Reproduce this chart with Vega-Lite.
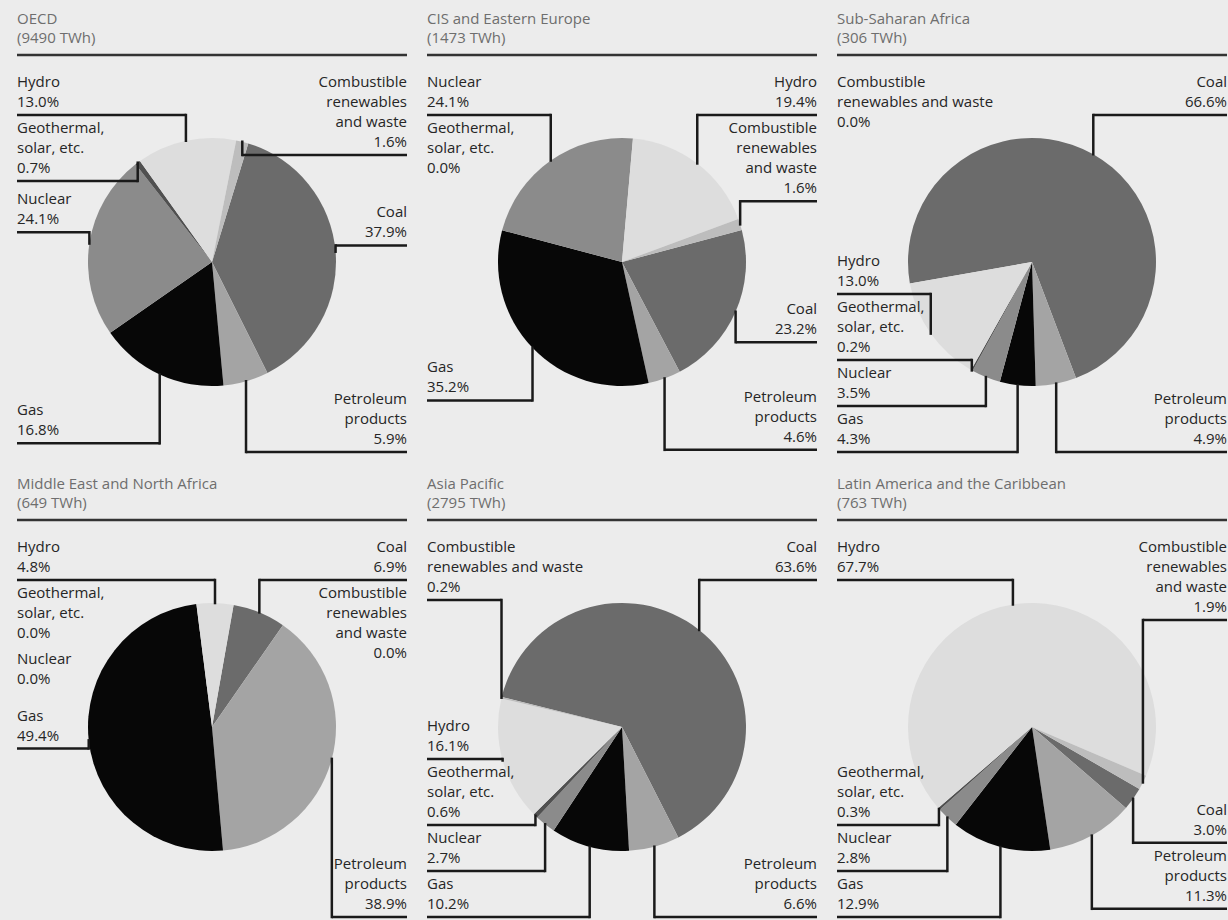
{
"$schema": "https://vega.github.io/schema/vega-lite/v6.json",
"padding": {"left": 15, "top": 0, "right": 3, "bottom": 0},
"config": {"background": "#ececec", "view": {"stroke": null}, "axis": {"disable": true}, "legend": {"disable": true}, "font": "Open Sans"},
"datasets": {
"regions": [
{"region": "OECD", "title": "OECD|(9490 TWh)"},
{"region": "CIS", "title": "CIS and Eastern Europe|(1473 TWh)"},
{"region": "SSA", "title": "Sub-Saharan Africa|(306 TWh)"},
{"region": "ME", "title": "Middle East and North Africa|(649 TWh)"},
{"region": "AP", "title": "Asia Pacific|(2795 TWh)"},
{"region": "LA", "title": "Latin America and the Caribbean|(763 TWh)"}
],
"shares": [
{"region": "OECD", "source": "Coal", "label": "Coal", "v": 37.9, "k": 0},
{"region": "OECD", "source": "Petroleum", "label": "Petroleum|products", "v": 5.9, "k": 1},
{"region": "OECD", "source": "Gas", "label": "Gas", "v": 16.8, "k": 2},
{"region": "OECD", "source": "Nuclear", "label": "Nuclear", "v": 24.1, "k": 3},
{"region": "OECD", "source": "Geothermal", "label": "Geothermal,|solar, etc.", "v": 0.7, "k": 4},
{"region": "OECD", "source": "Hydro", "label": "Hydro", "v": 13.0, "k": 5},
{"region": "OECD", "source": "Combustible", "label": "Combustible|renewables|and waste", "v": 1.6, "k": 6},
{"region": "CIS", "source": "Coal", "label": "Coal", "v": 23.2, "k": 0},
{"region": "CIS", "source": "Petroleum", "label": "Petroleum|products", "v": 4.6, "k": 1},
{"region": "CIS", "source": "Gas", "label": "Gas", "v": 35.2, "k": 2},
{"region": "CIS", "source": "Nuclear", "label": "Nuclear", "v": 24.1, "k": 3},
{"region": "CIS", "source": "Geothermal", "label": "Geothermal,|solar, etc.", "v": 0.0, "k": 4},
{"region": "CIS", "source": "Hydro", "label": "Hydro", "v": 19.4, "k": 5},
{"region": "CIS", "source": "Combustible", "label": "Combustible|renewables|and waste", "v": 1.6, "k": 6},
{"region": "SSA", "source": "Coal", "label": "Coal", "v": 66.6, "k": 0},
{"region": "SSA", "source": "Petroleum", "label": "Petroleum|products", "v": 4.9, "k": 1},
{"region": "SSA", "source": "Gas", "label": "Gas", "v": 4.3, "k": 2},
{"region": "SSA", "source": "Nuclear", "label": "Nuclear", "v": 3.5, "k": 3},
{"region": "SSA", "source": "Geothermal", "label": "Geothermal,|solar, etc.", "v": 0.2, "k": 4},
{"region": "SSA", "source": "Hydro", "label": "Hydro", "v": 13.0, "k": 5},
{"region": "SSA", "source": "Combustible", "label": "Combustible|renewables and waste", "v": 0.0, "k": 6},
{"region": "ME", "source": "Coal", "label": "Coal", "v": 6.9, "k": 0},
{"region": "ME", "source": "Petroleum", "label": "Petroleum|products", "v": 38.9, "k": 1},
{"region": "ME", "source": "Gas", "label": "Gas", "v": 49.4, "k": 2},
{"region": "ME", "source": "Nuclear", "label": "Nuclear", "v": 0.0, "k": 3},
{"region": "ME", "source": "Geothermal", "label": "Geothermal,|solar, etc.", "v": 0.0, "k": 4},
{"region": "ME", "source": "Hydro", "label": "Hydro", "v": 4.8, "k": 5},
{"region": "ME", "source": "Combustible", "label": "Combustible|renewables|and waste", "v": 0.0, "k": 6},
{"region": "AP", "source": "Coal", "label": "Coal", "v": 63.6, "k": 0},
{"region": "AP", "source": "Petroleum", "label": "Petroleum|products", "v": 6.6, "k": 1},
{"region": "AP", "source": "Gas", "label": "Gas", "v": 10.2, "k": 2},
{"region": "AP", "source": "Nuclear", "label": "Nuclear", "v": 2.7, "k": 3},
{"region": "AP", "source": "Geothermal", "label": "Geothermal,|solar, etc.", "v": 0.6, "k": 4},
{"region": "AP", "source": "Hydro", "label": "Hydro", "v": 16.1, "k": 5},
{"region": "AP", "source": "Combustible", "label": "Combustible|renewables and waste", "v": 0.2, "k": 6},
{"region": "LA", "source": "Coal", "label": "Coal", "v": 3.0, "k": 0},
{"region": "LA", "source": "Petroleum", "label": "Petroleum|products", "v": 11.3, "k": 1},
{"region": "LA", "source": "Gas", "label": "Gas", "v": 12.9, "k": 2},
{"region": "LA", "source": "Nuclear", "label": "Nuclear", "v": 2.8, "k": 3},
{"region": "LA", "source": "Geothermal", "label": "Geothermal,|solar, etc.", "v": 0.3, "k": 4},
{"region": "LA", "source": "Hydro", "label": "Hydro", "v": 67.7, "k": 5},
{"region": "LA", "source": "Combustible", "label": "Combustible|renewables|and waste", "v": 1.9, "k": 6}
]
},
"spacing": 10,
"vconcat": [
{"spacing": 20, "bounds": "flush", "hconcat": [
{"width": 390, "height": 455, "layer": [
{"data": {"name": "regions"}, "transform": [{"filter": "datum.region === 'OECD'"}], "mark": {"type": "rule", "color": "#333333", "strokeWidth": 2.5}, "encoding": {"y": {"datum": 207, "type": "quantitative", "scale": {"domain": [-193, 262], "nice": false, "zero": false}}}},
{"data": {"name": "regions"}, "transform": [{"filter": "datum.region === 'OECD'"}], "mark": {"type": "text", "align": "left", "baseline": "top", "lineBreak": "|", "fontSize": 15, "lineHeight": 19, "color": "#6e6e6e"}, "encoding": {"x": {"datum": -195, "type": "quantitative", "scale": {"domain": [-195, 195], "nice": false, "zero": false}}, "y": {"datum": 250, "type": "quantitative", "scale": {"domain": [-193, 262], "nice": false, "zero": false}}, "text": {"field": "title"}}},
{"data": {"name": "shares"}, "transform": [
{"filter": "datum.region === 'OECD'"},
{"stack": "v", "groupby": ["region"], "offset": "normalize", "sort": [{"field": "k", "order": "ascending"}], "as": ["f0", "f1"]},
{"calculate": "0.297 + 2*PI*datum.f0", "as": "a0"},
{"calculate": "0.297 + 2*PI*datum.f1", "as": "a1"},
{"calculate": "(datum.a0 + datum.a1) / 2", "as": "am"},
{"calculate": "cos(datum.am)", "as": "c"},
{"calculate": "sin(datum.am) > 0.1 ? 1 : -1", "as": "side"},
{"calculate": "124 * sin(datum.am)", "as": "px"},
{"calculate": "124 * cos(datum.am)", "as": "py"},
{"calculate": "length(split(datum.label, '|')) + 1", "as": "n"},
{"calculate": "datum.label + '|' + format(datum.v, '.1f') + '%'", "as": "txt"},
{"calculate": "clamp(200 * datum.c, -190, 187 - 20 * datum.n)", "as": "y0"},
{"calculate": "datum.n >= 3 && datum.y0 < 55 && datum.y0 + 20 * datum.n > -55", "as": "inband"},
{"calculate": "datum.c > 0 ? 1 : 0", "as": "isup"},
{"joinaggregate": [{"op": "sum", "field": "isup", "as": "nup"}, {"op": "count", "as": "cnt"}], "groupby": ["side"]},
{"calculate": "datum.nup - datum.isup", "as": "upo"},
{"calculate": "datum.cnt - 1 - datum.upo", "as": "dno"},
{"calculate": "datum.inband ? ((datum.upo < datum.dno || (datum.upo == datum.dno && datum.c > 0)) ? 1 : -1) : 0", "as": "zone"},
{"calculate": "datum.zone == 1 ? 187 - 20 * datum.n : (datum.zone == -1 ? -190 : datum.y0)", "as": "yd"},
{"calculate": "datum.zone == 1 ? 2 + datum.c : (datum.zone == -1 ? datum.c - 2 : (datum.v == 0 ? datum.c - 1 : datum.c))", "as": "s"},
{"calculate": "datum.side * datum.k", "as": "tk"},
{"calculate": "20 * datum.n + 6", "as": "g"},
{"window": [{"op": "row_number", "as": "idx"}, {"op": "sum", "field": "g", "as": "cg"}], "groupby": ["side"], "sort": [{"field": "s", "order": "descending"}, {"field": "tk", "order": "ascending"}], "frame": [null, 0]},
{"calculate": "datum.yd + datum.cg", "as": "z"},
{"window": [{"op": "min", "field": "z", "as": "u"}], "groupby": ["side"], "sort": [{"field": "idx", "order": "ascending"}], "frame": [null, 0]},
{"calculate": "datum.u - datum.cg", "as": "y1"},
{"window": [{"op": "sum", "field": "g", "as": "cb"}], "groupby": ["side"], "sort": [{"field": "idx", "order": "descending"}], "frame": [null, 0]},
{"calculate": "datum.cb - datum.g", "as": "e"},
{"calculate": "datum.y1 - datum.e", "as": "q"},
{"window": [{"op": "max", "field": "q", "as": "qm"}], "groupby": ["side"], "sort": [{"field": "idx", "order": "descending"}], "frame": [null, 0]},
{"calculate": "datum.e + max(-190, datum.qm)", "as": "ly"},
{"calculate": "datum.ly + 20 * datum.n", "as": "ty"},
{"calculate": "195 * datum.side", "as": "lx"}
], "layer": [
{"mark": {"type": "arc", "outerRadius": 124}, "encoding": {"x": {"datum": 0, "type": "quantitative", "scale": {"domain": [-195, 195], "nice": false, "zero": false}}, "y": {"datum": 0, "type": "quantitative", "scale": {"domain": [-193, 262], "nice": false, "zero": false}}, "theta": {"field": "a0", "type": "quantitative", "scale": null}, "theta2": {"field": "a1"}, "color": {"field": "source", "type": "nominal", "scale": {"domain": ["Coal", "Petroleum", "Gas", "Nuclear", "Geothermal", "Hydro", "Combustible"], "range": ["#6b6b6b", "#a4a4a4", "#070707", "#8b8b8b", "#505050", "#dddddd", "#bdbdbd"]}}}},
{"transform": [{"filter": "datum.v > 0"}], "mark": {"type": "rule", "color": "#1a1a1a", "strokeWidth": 2.5}, "encoding": {"x": {"field": "lx", "type": "quantitative", "scale": {"domain": [-195, 195], "nice": false, "zero": false}}, "x2": {"field": "px"}, "y": {"field": "ly", "type": "quantitative", "scale": {"domain": [-193, 262], "nice": false, "zero": false}}}},
{"transform": [{"filter": "datum.v > 0"}], "mark": {"type": "rule", "color": "#1a1a1a", "strokeWidth": 2.5, "strokeCap": "square"}, "encoding": {"x": {"field": "px", "type": "quantitative", "scale": {"domain": [-195, 195], "nice": false, "zero": false}}, "y": {"field": "ly", "type": "quantitative", "scale": {"domain": [-193, 262], "nice": false, "zero": false}}, "y2": {"field": "py"}}},
{"transform": [{"filter": "datum.side < 0"}], "mark": {"type": "text", "align": "left", "baseline": "top", "lineBreak": "|", "fontSize": 15, "lineHeight": 20, "color": "#262626"}, "encoding": {"x": {"field": "lx", "type": "quantitative", "scale": {"domain": [-195, 195], "nice": false, "zero": false}}, "y": {"field": "ty", "type": "quantitative", "scale": {"domain": [-193, 262], "nice": false, "zero": false}}, "text": {"field": "txt"}}},
{"transform": [{"filter": "datum.side > 0"}], "mark": {"type": "text", "align": "right", "baseline": "top", "lineBreak": "|", "fontSize": 15, "lineHeight": 20, "color": "#262626"}, "encoding": {"x": {"field": "lx", "type": "quantitative", "scale": {"domain": [-195, 195], "nice": false, "zero": false}}, "y": {"field": "ty", "type": "quantitative", "scale": {"domain": [-193, 262], "nice": false, "zero": false}}, "text": {"field": "txt"}}}
]}
]},
{"width": 390, "height": 455, "layer": [
{"data": {"name": "regions"}, "transform": [{"filter": "datum.region === 'CIS'"}], "mark": {"type": "rule", "color": "#333333", "strokeWidth": 2.5}, "encoding": {"y": {"datum": 207, "type": "quantitative", "scale": {"domain": [-193, 262], "nice": false, "zero": false}}}},
{"data": {"name": "regions"}, "transform": [{"filter": "datum.region === 'CIS'"}], "mark": {"type": "text", "align": "left", "baseline": "top", "lineBreak": "|", "fontSize": 15, "lineHeight": 19, "color": "#6e6e6e"}, "encoding": {"x": {"datum": -195, "type": "quantitative", "scale": {"domain": [-195, 195], "nice": false, "zero": false}}, "y": {"datum": 250, "type": "quantitative", "scale": {"domain": [-193, 262], "nice": false, "zero": false}}, "text": {"field": "title"}}},
{"data": {"name": "shares"}, "transform": [
{"filter": "datum.region === 'CIS'"},
{"stack": "v", "groupby": ["region"], "offset": "normalize", "sort": [{"field": "k", "order": "ascending"}], "as": ["f0", "f1"]},
{"calculate": "1.309 + 2*PI*datum.f0", "as": "a0"},
{"calculate": "1.309 + 2*PI*datum.f1", "as": "a1"},
{"calculate": "(datum.a0 + datum.a1) / 2", "as": "am"},
{"calculate": "cos(datum.am)", "as": "c"},
{"calculate": "sin(datum.am) > 0.1 ? 1 : -1", "as": "side"},
{"calculate": "124 * sin(datum.am)", "as": "px"},
{"calculate": "124 * cos(datum.am)", "as": "py"},
{"calculate": "length(split(datum.label, '|')) + 1", "as": "n"},
{"calculate": "datum.label + '|' + format(datum.v, '.1f') + '%'", "as": "txt"},
{"calculate": "clamp(200 * datum.c, -190, 187 - 20 * datum.n)", "as": "y0"},
{"calculate": "datum.n >= 3 && datum.y0 < 55 && datum.y0 + 20 * datum.n > -55", "as": "inband"},
{"calculate": "datum.c > 0 ? 1 : 0", "as": "isup"},
{"joinaggregate": [{"op": "sum", "field": "isup", "as": "nup"}, {"op": "count", "as": "cnt"}], "groupby": ["side"]},
{"calculate": "datum.nup - datum.isup", "as": "upo"},
{"calculate": "datum.cnt - 1 - datum.upo", "as": "dno"},
{"calculate": "datum.inband ? ((datum.upo < datum.dno || (datum.upo == datum.dno && datum.c > 0)) ? 1 : -1) : 0", "as": "zone"},
{"calculate": "datum.zone == 1 ? 187 - 20 * datum.n : (datum.zone == -1 ? -190 : datum.y0)", "as": "yd"},
{"calculate": "datum.zone == 1 ? 2 + datum.c : (datum.zone == -1 ? datum.c - 2 : (datum.v == 0 ? datum.c - 1 : datum.c))", "as": "s"},
{"calculate": "datum.side * datum.k", "as": "tk"},
{"calculate": "20 * datum.n + 6", "as": "g"},
{"window": [{"op": "row_number", "as": "idx"}, {"op": "sum", "field": "g", "as": "cg"}], "groupby": ["side"], "sort": [{"field": "s", "order": "descending"}, {"field": "tk", "order": "ascending"}], "frame": [null, 0]},
{"calculate": "datum.yd + datum.cg", "as": "z"},
{"window": [{"op": "min", "field": "z", "as": "u"}], "groupby": ["side"], "sort": [{"field": "idx", "order": "ascending"}], "frame": [null, 0]},
{"calculate": "datum.u - datum.cg", "as": "y1"},
{"window": [{"op": "sum", "field": "g", "as": "cb"}], "groupby": ["side"], "sort": [{"field": "idx", "order": "descending"}], "frame": [null, 0]},
{"calculate": "datum.cb - datum.g", "as": "e"},
{"calculate": "datum.y1 - datum.e", "as": "q"},
{"window": [{"op": "max", "field": "q", "as": "qm"}], "groupby": ["side"], "sort": [{"field": "idx", "order": "descending"}], "frame": [null, 0]},
{"calculate": "datum.e + max(-190, datum.qm)", "as": "ly"},
{"calculate": "datum.ly + 20 * datum.n", "as": "ty"},
{"calculate": "195 * datum.side", "as": "lx"}
], "layer": [
{"mark": {"type": "arc", "outerRadius": 124}, "encoding": {"x": {"datum": 0, "type": "quantitative", "scale": {"domain": [-195, 195], "nice": false, "zero": false}}, "y": {"datum": 0, "type": "quantitative", "scale": {"domain": [-193, 262], "nice": false, "zero": false}}, "theta": {"field": "a0", "type": "quantitative", "scale": null}, "theta2": {"field": "a1"}, "color": {"field": "source", "type": "nominal", "scale": {"domain": ["Coal", "Petroleum", "Gas", "Nuclear", "Geothermal", "Hydro", "Combustible"], "range": ["#6b6b6b", "#a4a4a4", "#070707", "#8b8b8b", "#505050", "#dddddd", "#bdbdbd"]}}}},
{"transform": [{"filter": "datum.v > 0"}], "mark": {"type": "rule", "color": "#1a1a1a", "strokeWidth": 2.5}, "encoding": {"x": {"field": "lx", "type": "quantitative", "scale": {"domain": [-195, 195], "nice": false, "zero": false}}, "x2": {"field": "px"}, "y": {"field": "ly", "type": "quantitative", "scale": {"domain": [-193, 262], "nice": false, "zero": false}}}},
{"transform": [{"filter": "datum.v > 0"}], "mark": {"type": "rule", "color": "#1a1a1a", "strokeWidth": 2.5, "strokeCap": "square"}, "encoding": {"x": {"field": "px", "type": "quantitative", "scale": {"domain": [-195, 195], "nice": false, "zero": false}}, "y": {"field": "ly", "type": "quantitative", "scale": {"domain": [-193, 262], "nice": false, "zero": false}}, "y2": {"field": "py"}}},
{"transform": [{"filter": "datum.side < 0"}], "mark": {"type": "text", "align": "left", "baseline": "top", "lineBreak": "|", "fontSize": 15, "lineHeight": 20, "color": "#262626"}, "encoding": {"x": {"field": "lx", "type": "quantitative", "scale": {"domain": [-195, 195], "nice": false, "zero": false}}, "y": {"field": "ty", "type": "quantitative", "scale": {"domain": [-193, 262], "nice": false, "zero": false}}, "text": {"field": "txt"}}},
{"transform": [{"filter": "datum.side > 0"}], "mark": {"type": "text", "align": "right", "baseline": "top", "lineBreak": "|", "fontSize": 15, "lineHeight": 20, "color": "#262626"}, "encoding": {"x": {"field": "lx", "type": "quantitative", "scale": {"domain": [-195, 195], "nice": false, "zero": false}}, "y": {"field": "ty", "type": "quantitative", "scale": {"domain": [-193, 262], "nice": false, "zero": false}}, "text": {"field": "txt"}}}
]}
]},
{"width": 390, "height": 455, "layer": [
{"data": {"name": "regions"}, "transform": [{"filter": "datum.region === 'SSA'"}], "mark": {"type": "rule", "color": "#333333", "strokeWidth": 2.5}, "encoding": {"y": {"datum": 207, "type": "quantitative", "scale": {"domain": [-193, 262], "nice": false, "zero": false}}}},
{"data": {"name": "regions"}, "transform": [{"filter": "datum.region === 'SSA'"}], "mark": {"type": "text", "align": "left", "baseline": "top", "lineBreak": "|", "fontSize": 15, "lineHeight": 19, "color": "#6e6e6e"}, "encoding": {"x": {"datum": -195, "type": "quantitative", "scale": {"domain": [-195, 195], "nice": false, "zero": false}}, "y": {"datum": 250, "type": "quantitative", "scale": {"domain": [-193, 262], "nice": false, "zero": false}}, "text": {"field": "title"}}},
{"data": {"name": "shares"}, "transform": [
{"filter": "datum.region === 'SSA'"},
{"stack": "v", "groupby": ["region"], "offset": "normalize", "sort": [{"field": "k", "order": "ascending"}], "as": ["f0", "f1"]},
{"calculate": "-1.745 + 2*PI*datum.f0", "as": "a0"},
{"calculate": "-1.745 + 2*PI*datum.f1", "as": "a1"},
{"calculate": "(datum.a0 + datum.a1) / 2", "as": "am"},
{"calculate": "cos(datum.am)", "as": "c"},
{"calculate": "sin(datum.am) > 0.1 ? 1 : -1", "as": "side"},
{"calculate": "124 * sin(datum.am)", "as": "px"},
{"calculate": "124 * cos(datum.am)", "as": "py"},
{"calculate": "length(split(datum.label, '|')) + 1", "as": "n"},
{"calculate": "datum.label + '|' + format(datum.v, '.1f') + '%'", "as": "txt"},
{"calculate": "clamp(200 * datum.c, -190, 187 - 20 * datum.n)", "as": "y0"},
{"calculate": "datum.n >= 3 && datum.y0 < 55 && datum.y0 + 20 * datum.n > -55", "as": "inband"},
{"calculate": "datum.c > 0 ? 1 : 0", "as": "isup"},
{"joinaggregate": [{"op": "sum", "field": "isup", "as": "nup"}, {"op": "count", "as": "cnt"}], "groupby": ["side"]},
{"calculate": "datum.nup - datum.isup", "as": "upo"},
{"calculate": "datum.cnt - 1 - datum.upo", "as": "dno"},
{"calculate": "datum.inband ? ((datum.upo < datum.dno || (datum.upo == datum.dno && datum.c > 0)) ? 1 : -1) : 0", "as": "zone"},
{"calculate": "datum.zone == 1 ? 187 - 20 * datum.n : (datum.zone == -1 ? -190 : datum.y0)", "as": "yd"},
{"calculate": "datum.zone == 1 ? 2 + datum.c : (datum.zone == -1 ? datum.c - 2 : (datum.v == 0 ? datum.c - 1 : datum.c))", "as": "s"},
{"calculate": "datum.side * datum.k", "as": "tk"},
{"calculate": "20 * datum.n + 6", "as": "g"},
{"window": [{"op": "row_number", "as": "idx"}, {"op": "sum", "field": "g", "as": "cg"}], "groupby": ["side"], "sort": [{"field": "s", "order": "descending"}, {"field": "tk", "order": "ascending"}], "frame": [null, 0]},
{"calculate": "datum.yd + datum.cg", "as": "z"},
{"window": [{"op": "min", "field": "z", "as": "u"}], "groupby": ["side"], "sort": [{"field": "idx", "order": "ascending"}], "frame": [null, 0]},
{"calculate": "datum.u - datum.cg", "as": "y1"},
{"window": [{"op": "sum", "field": "g", "as": "cb"}], "groupby": ["side"], "sort": [{"field": "idx", "order": "descending"}], "frame": [null, 0]},
{"calculate": "datum.cb - datum.g", "as": "e"},
{"calculate": "datum.y1 - datum.e", "as": "q"},
{"window": [{"op": "max", "field": "q", "as": "qm"}], "groupby": ["side"], "sort": [{"field": "idx", "order": "descending"}], "frame": [null, 0]},
{"calculate": "datum.e + max(-190, datum.qm)", "as": "ly"},
{"calculate": "datum.ly + 20 * datum.n", "as": "ty"},
{"calculate": "195 * datum.side", "as": "lx"}
], "layer": [
{"mark": {"type": "arc", "outerRadius": 124}, "encoding": {"x": {"datum": 0, "type": "quantitative", "scale": {"domain": [-195, 195], "nice": false, "zero": false}}, "y": {"datum": 0, "type": "quantitative", "scale": {"domain": [-193, 262], "nice": false, "zero": false}}, "theta": {"field": "a0", "type": "quantitative", "scale": null}, "theta2": {"field": "a1"}, "color": {"field": "source", "type": "nominal", "scale": {"domain": ["Coal", "Petroleum", "Gas", "Nuclear", "Geothermal", "Hydro", "Combustible"], "range": ["#6b6b6b", "#a4a4a4", "#070707", "#8b8b8b", "#505050", "#dddddd", "#bdbdbd"]}}}},
{"transform": [{"filter": "datum.v > 0"}], "mark": {"type": "rule", "color": "#1a1a1a", "strokeWidth": 2.5}, "encoding": {"x": {"field": "lx", "type": "quantitative", "scale": {"domain": [-195, 195], "nice": false, "zero": false}}, "x2": {"field": "px"}, "y": {"field": "ly", "type": "quantitative", "scale": {"domain": [-193, 262], "nice": false, "zero": false}}}},
{"transform": [{"filter": "datum.v > 0"}], "mark": {"type": "rule", "color": "#1a1a1a", "strokeWidth": 2.5, "strokeCap": "square"}, "encoding": {"x": {"field": "px", "type": "quantitative", "scale": {"domain": [-195, 195], "nice": false, "zero": false}}, "y": {"field": "ly", "type": "quantitative", "scale": {"domain": [-193, 262], "nice": false, "zero": false}}, "y2": {"field": "py"}}},
{"transform": [{"filter": "datum.side < 0"}], "mark": {"type": "text", "align": "left", "baseline": "top", "lineBreak": "|", "fontSize": 15, "lineHeight": 20, "color": "#262626"}, "encoding": {"x": {"field": "lx", "type": "quantitative", "scale": {"domain": [-195, 195], "nice": false, "zero": false}}, "y": {"field": "ty", "type": "quantitative", "scale": {"domain": [-193, 262], "nice": false, "zero": false}}, "text": {"field": "txt"}}},
{"transform": [{"filter": "datum.side > 0"}], "mark": {"type": "text", "align": "right", "baseline": "top", "lineBreak": "|", "fontSize": 15, "lineHeight": 20, "color": "#262626"}, "encoding": {"x": {"field": "lx", "type": "quantitative", "scale": {"domain": [-195, 195], "nice": false, "zero": false}}, "y": {"field": "ty", "type": "quantitative", "scale": {"domain": [-193, 262], "nice": false, "zero": false}}, "text": {"field": "txt"}}}
]}
]}
]},
{"spacing": 20, "bounds": "flush", "hconcat": [
{"width": 390, "height": 455, "layer": [
{"data": {"name": "regions"}, "transform": [{"filter": "datum.region === 'ME'"}], "mark": {"type": "rule", "color": "#333333", "strokeWidth": 2.5}, "encoding": {"y": {"datum": 207, "type": "quantitative", "scale": {"domain": [-193, 262], "nice": false, "zero": false}}}},
{"data": {"name": "regions"}, "transform": [{"filter": "datum.region === 'ME'"}], "mark": {"type": "text", "align": "left", "baseline": "top", "lineBreak": "|", "fontSize": 15, "lineHeight": 19, "color": "#6e6e6e"}, "encoding": {"x": {"datum": -195, "type": "quantitative", "scale": {"domain": [-195, 195], "nice": false, "zero": false}}, "y": {"datum": 250, "type": "quantitative", "scale": {"domain": [-193, 262], "nice": false, "zero": false}}, "text": {"field": "title"}}},
{"data": {"name": "shares"}, "transform": [
{"filter": "datum.region === 'ME'"},
{"stack": "v", "groupby": ["region"], "offset": "normalize", "sort": [{"field": "k", "order": "ascending"}], "as": ["f0", "f1"]},
{"calculate": "0.175 + 2*PI*datum.f0", "as": "a0"},
{"calculate": "0.175 + 2*PI*datum.f1", "as": "a1"},
{"calculate": "(datum.a0 + datum.a1) / 2", "as": "am"},
{"calculate": "cos(datum.am)", "as": "c"},
{"calculate": "sin(datum.am) > 0.1 ? 1 : -1", "as": "side"},
{"calculate": "124 * sin(datum.am)", "as": "px"},
{"calculate": "124 * cos(datum.am)", "as": "py"},
{"calculate": "length(split(datum.label, '|')) + 1", "as": "n"},
{"calculate": "datum.label + '|' + format(datum.v, '.1f') + '%'", "as": "txt"},
{"calculate": "clamp(200 * datum.c, -190, 187 - 20 * datum.n)", "as": "y0"},
{"calculate": "datum.n >= 3 && datum.y0 < 55 && datum.y0 + 20 * datum.n > -55", "as": "inband"},
{"calculate": "datum.c > 0 ? 1 : 0", "as": "isup"},
{"joinaggregate": [{"op": "sum", "field": "isup", "as": "nup"}, {"op": "count", "as": "cnt"}], "groupby": ["side"]},
{"calculate": "datum.nup - datum.isup", "as": "upo"},
{"calculate": "datum.cnt - 1 - datum.upo", "as": "dno"},
{"calculate": "datum.inband ? ((datum.upo < datum.dno || (datum.upo == datum.dno && datum.c > 0)) ? 1 : -1) : 0", "as": "zone"},
{"calculate": "datum.zone == 1 ? 187 - 20 * datum.n : (datum.zone == -1 ? -190 : datum.y0)", "as": "yd"},
{"calculate": "datum.zone == 1 ? 2 + datum.c : (datum.zone == -1 ? datum.c - 2 : (datum.v == 0 ? datum.c - 1 : datum.c))", "as": "s"},
{"calculate": "datum.side * datum.k", "as": "tk"},
{"calculate": "20 * datum.n + 6", "as": "g"},
{"window": [{"op": "row_number", "as": "idx"}, {"op": "sum", "field": "g", "as": "cg"}], "groupby": ["side"], "sort": [{"field": "s", "order": "descending"}, {"field": "tk", "order": "ascending"}], "frame": [null, 0]},
{"calculate": "datum.yd + datum.cg", "as": "z"},
{"window": [{"op": "min", "field": "z", "as": "u"}], "groupby": ["side"], "sort": [{"field": "idx", "order": "ascending"}], "frame": [null, 0]},
{"calculate": "datum.u - datum.cg", "as": "y1"},
{"window": [{"op": "sum", "field": "g", "as": "cb"}], "groupby": ["side"], "sort": [{"field": "idx", "order": "descending"}], "frame": [null, 0]},
{"calculate": "datum.cb - datum.g", "as": "e"},
{"calculate": "datum.y1 - datum.e", "as": "q"},
{"window": [{"op": "max", "field": "q", "as": "qm"}], "groupby": ["side"], "sort": [{"field": "idx", "order": "descending"}], "frame": [null, 0]},
{"calculate": "datum.e + max(-190, datum.qm)", "as": "ly"},
{"calculate": "datum.ly + 20 * datum.n", "as": "ty"},
{"calculate": "195 * datum.side", "as": "lx"}
], "layer": [
{"mark": {"type": "arc", "outerRadius": 124}, "encoding": {"x": {"datum": 0, "type": "quantitative", "scale": {"domain": [-195, 195], "nice": false, "zero": false}}, "y": {"datum": 0, "type": "quantitative", "scale": {"domain": [-193, 262], "nice": false, "zero": false}}, "theta": {"field": "a0", "type": "quantitative", "scale": null}, "theta2": {"field": "a1"}, "color": {"field": "source", "type": "nominal", "scale": {"domain": ["Coal", "Petroleum", "Gas", "Nuclear", "Geothermal", "Hydro", "Combustible"], "range": ["#6b6b6b", "#a4a4a4", "#070707", "#8b8b8b", "#505050", "#dddddd", "#bdbdbd"]}}}},
{"transform": [{"filter": "datum.v > 0"}], "mark": {"type": "rule", "color": "#1a1a1a", "strokeWidth": 2.5}, "encoding": {"x": {"field": "lx", "type": "quantitative", "scale": {"domain": [-195, 195], "nice": false, "zero": false}}, "x2": {"field": "px"}, "y": {"field": "ly", "type": "quantitative", "scale": {"domain": [-193, 262], "nice": false, "zero": false}}}},
{"transform": [{"filter": "datum.v > 0"}], "mark": {"type": "rule", "color": "#1a1a1a", "strokeWidth": 2.5, "strokeCap": "square"}, "encoding": {"x": {"field": "px", "type": "quantitative", "scale": {"domain": [-195, 195], "nice": false, "zero": false}}, "y": {"field": "ly", "type": "quantitative", "scale": {"domain": [-193, 262], "nice": false, "zero": false}}, "y2": {"field": "py"}}},
{"transform": [{"filter": "datum.side < 0"}], "mark": {"type": "text", "align": "left", "baseline": "top", "lineBreak": "|", "fontSize": 15, "lineHeight": 20, "color": "#262626"}, "encoding": {"x": {"field": "lx", "type": "quantitative", "scale": {"domain": [-195, 195], "nice": false, "zero": false}}, "y": {"field": "ty", "type": "quantitative", "scale": {"domain": [-193, 262], "nice": false, "zero": false}}, "text": {"field": "txt"}}},
{"transform": [{"filter": "datum.side > 0"}], "mark": {"type": "text", "align": "right", "baseline": "top", "lineBreak": "|", "fontSize": 15, "lineHeight": 20, "color": "#262626"}, "encoding": {"x": {"field": "lx", "type": "quantitative", "scale": {"domain": [-195, 195], "nice": false, "zero": false}}, "y": {"field": "ty", "type": "quantitative", "scale": {"domain": [-193, 262], "nice": false, "zero": false}}, "text": {"field": "txt"}}}
]}
]},
{"width": 390, "height": 455, "layer": [
{"data": {"name": "regions"}, "transform": [{"filter": "datum.region === 'AP'"}], "mark": {"type": "rule", "color": "#333333", "strokeWidth": 2.5}, "encoding": {"y": {"datum": 207, "type": "quantitative", "scale": {"domain": [-193, 262], "nice": false, "zero": false}}}},
{"data": {"name": "regions"}, "transform": [{"filter": "datum.region === 'AP'"}], "mark": {"type": "text", "align": "left", "baseline": "top", "lineBreak": "|", "fontSize": 15, "lineHeight": 19, "color": "#6e6e6e"}, "encoding": {"x": {"datum": -195, "type": "quantitative", "scale": {"domain": [-195, 195], "nice": false, "zero": false}}, "y": {"datum": 250, "type": "quantitative", "scale": {"domain": [-193, 262], "nice": false, "zero": false}}, "text": {"field": "title"}}},
{"data": {"name": "shares"}, "transform": [
{"filter": "datum.region === 'AP'"},
{"stack": "v", "groupby": ["region"], "offset": "normalize", "sort": [{"field": "k", "order": "ascending"}], "as": ["f0", "f1"]},
{"calculate": "-1.326 + 2*PI*datum.f0", "as": "a0"},
{"calculate": "-1.326 + 2*PI*datum.f1", "as": "a1"},
{"calculate": "(datum.a0 + datum.a1) / 2", "as": "am"},
{"calculate": "cos(datum.am)", "as": "c"},
{"calculate": "sin(datum.am) > 0.1 ? 1 : -1", "as": "side"},
{"calculate": "124 * sin(datum.am)", "as": "px"},
{"calculate": "124 * cos(datum.am)", "as": "py"},
{"calculate": "length(split(datum.label, '|')) + 1", "as": "n"},
{"calculate": "datum.label + '|' + format(datum.v, '.1f') + '%'", "as": "txt"},
{"calculate": "clamp(200 * datum.c, -190, 187 - 20 * datum.n)", "as": "y0"},
{"calculate": "datum.n >= 3 && datum.y0 < 55 && datum.y0 + 20 * datum.n > -55", "as": "inband"},
{"calculate": "datum.c > 0 ? 1 : 0", "as": "isup"},
{"joinaggregate": [{"op": "sum", "field": "isup", "as": "nup"}, {"op": "count", "as": "cnt"}], "groupby": ["side"]},
{"calculate": "datum.nup - datum.isup", "as": "upo"},
{"calculate": "datum.cnt - 1 - datum.upo", "as": "dno"},
{"calculate": "datum.inband ? ((datum.upo < datum.dno || (datum.upo == datum.dno && datum.c > 0)) ? 1 : -1) : 0", "as": "zone"},
{"calculate": "datum.zone == 1 ? 187 - 20 * datum.n : (datum.zone == -1 ? -190 : datum.y0)", "as": "yd"},
{"calculate": "datum.zone == 1 ? 2 + datum.c : (datum.zone == -1 ? datum.c - 2 : (datum.v == 0 ? datum.c - 1 : datum.c))", "as": "s"},
{"calculate": "datum.side * datum.k", "as": "tk"},
{"calculate": "20 * datum.n + 6", "as": "g"},
{"window": [{"op": "row_number", "as": "idx"}, {"op": "sum", "field": "g", "as": "cg"}], "groupby": ["side"], "sort": [{"field": "s", "order": "descending"}, {"field": "tk", "order": "ascending"}], "frame": [null, 0]},
{"calculate": "datum.yd + datum.cg", "as": "z"},
{"window": [{"op": "min", "field": "z", "as": "u"}], "groupby": ["side"], "sort": [{"field": "idx", "order": "ascending"}], "frame": [null, 0]},
{"calculate": "datum.u - datum.cg", "as": "y1"},
{"window": [{"op": "sum", "field": "g", "as": "cb"}], "groupby": ["side"], "sort": [{"field": "idx", "order": "descending"}], "frame": [null, 0]},
{"calculate": "datum.cb - datum.g", "as": "e"},
{"calculate": "datum.y1 - datum.e", "as": "q"},
{"window": [{"op": "max", "field": "q", "as": "qm"}], "groupby": ["side"], "sort": [{"field": "idx", "order": "descending"}], "frame": [null, 0]},
{"calculate": "datum.e + max(-190, datum.qm)", "as": "ly"},
{"calculate": "datum.ly + 20 * datum.n", "as": "ty"},
{"calculate": "195 * datum.side", "as": "lx"}
], "layer": [
{"mark": {"type": "arc", "outerRadius": 124}, "encoding": {"x": {"datum": 0, "type": "quantitative", "scale": {"domain": [-195, 195], "nice": false, "zero": false}}, "y": {"datum": 0, "type": "quantitative", "scale": {"domain": [-193, 262], "nice": false, "zero": false}}, "theta": {"field": "a0", "type": "quantitative", "scale": null}, "theta2": {"field": "a1"}, "color": {"field": "source", "type": "nominal", "scale": {"domain": ["Coal", "Petroleum", "Gas", "Nuclear", "Geothermal", "Hydro", "Combustible"], "range": ["#6b6b6b", "#a4a4a4", "#070707", "#8b8b8b", "#505050", "#dddddd", "#bdbdbd"]}}}},
{"transform": [{"filter": "datum.v > 0"}], "mark": {"type": "rule", "color": "#1a1a1a", "strokeWidth": 2.5}, "encoding": {"x": {"field": "lx", "type": "quantitative", "scale": {"domain": [-195, 195], "nice": false, "zero": false}}, "x2": {"field": "px"}, "y": {"field": "ly", "type": "quantitative", "scale": {"domain": [-193, 262], "nice": false, "zero": false}}}},
{"transform": [{"filter": "datum.v > 0"}], "mark": {"type": "rule", "color": "#1a1a1a", "strokeWidth": 2.5, "strokeCap": "square"}, "encoding": {"x": {"field": "px", "type": "quantitative", "scale": {"domain": [-195, 195], "nice": false, "zero": false}}, "y": {"field": "ly", "type": "quantitative", "scale": {"domain": [-193, 262], "nice": false, "zero": false}}, "y2": {"field": "py"}}},
{"transform": [{"filter": "datum.side < 0"}], "mark": {"type": "text", "align": "left", "baseline": "top", "lineBreak": "|", "fontSize": 15, "lineHeight": 20, "color": "#262626"}, "encoding": {"x": {"field": "lx", "type": "quantitative", "scale": {"domain": [-195, 195], "nice": false, "zero": false}}, "y": {"field": "ty", "type": "quantitative", "scale": {"domain": [-193, 262], "nice": false, "zero": false}}, "text": {"field": "txt"}}},
{"transform": [{"filter": "datum.side > 0"}], "mark": {"type": "text", "align": "right", "baseline": "top", "lineBreak": "|", "fontSize": 15, "lineHeight": 20, "color": "#262626"}, "encoding": {"x": {"field": "lx", "type": "quantitative", "scale": {"domain": [-195, 195], "nice": false, "zero": false}}, "y": {"field": "ty", "type": "quantitative", "scale": {"domain": [-193, 262], "nice": false, "zero": false}}, "text": {"field": "txt"}}}
]}
]},
{"width": 390, "height": 455, "layer": [
{"data": {"name": "regions"}, "transform": [{"filter": "datum.region === 'LA'"}], "mark": {"type": "rule", "color": "#333333", "strokeWidth": 2.5}, "encoding": {"y": {"datum": 207, "type": "quantitative", "scale": {"domain": [-193, 262], "nice": false, "zero": false}}}},
{"data": {"name": "regions"}, "transform": [{"filter": "datum.region === 'LA'"}], "mark": {"type": "text", "align": "left", "baseline": "top", "lineBreak": "|", "fontSize": 15, "lineHeight": 19, "color": "#6e6e6e"}, "encoding": {"x": {"datum": -195, "type": "quantitative", "scale": {"domain": [-195, 195], "nice": false, "zero": false}}, "y": {"datum": 250, "type": "quantitative", "scale": {"domain": [-193, 262], "nice": false, "zero": false}}, "text": {"field": "title"}}},
{"data": {"name": "shares"}, "transform": [
{"filter": "datum.region === 'LA'"},
{"stack": "v", "groupby": ["region"], "offset": "normalize", "sort": [{"field": "k", "order": "ascending"}], "as": ["f0", "f1"]},
{"calculate": "2.094 + 2*PI*datum.f0", "as": "a0"},
{"calculate": "2.094 + 2*PI*datum.f1", "as": "a1"},
{"calculate": "(datum.a0 + datum.a1) / 2", "as": "am"},
{"calculate": "cos(datum.am)", "as": "c"},
{"calculate": "sin(datum.am) > 0.1 ? 1 : -1", "as": "side"},
{"calculate": "124 * sin(datum.am)", "as": "px"},
{"calculate": "124 * cos(datum.am)", "as": "py"},
{"calculate": "length(split(datum.label, '|')) + 1", "as": "n"},
{"calculate": "datum.label + '|' + format(datum.v, '.1f') + '%'", "as": "txt"},
{"calculate": "clamp(200 * datum.c, -190, 187 - 20 * datum.n)", "as": "y0"},
{"calculate": "datum.n >= 3 && datum.y0 < 55 && datum.y0 + 20 * datum.n > -55", "as": "inband"},
{"calculate": "datum.c > 0 ? 1 : 0", "as": "isup"},
{"joinaggregate": [{"op": "sum", "field": "isup", "as": "nup"}, {"op": "count", "as": "cnt"}], "groupby": ["side"]},
{"calculate": "datum.nup - datum.isup", "as": "upo"},
{"calculate": "datum.cnt - 1 - datum.upo", "as": "dno"},
{"calculate": "datum.inband ? ((datum.upo < datum.dno || (datum.upo == datum.dno && datum.c > 0)) ? 1 : -1) : 0", "as": "zone"},
{"calculate": "datum.zone == 1 ? 187 - 20 * datum.n : (datum.zone == -1 ? -190 : datum.y0)", "as": "yd"},
{"calculate": "datum.zone == 1 ? 2 + datum.c : (datum.zone == -1 ? datum.c - 2 : (datum.v == 0 ? datum.c - 1 : datum.c))", "as": "s"},
{"calculate": "datum.side * datum.k", "as": "tk"},
{"calculate": "20 * datum.n + 6", "as": "g"},
{"window": [{"op": "row_number", "as": "idx"}, {"op": "sum", "field": "g", "as": "cg"}], "groupby": ["side"], "sort": [{"field": "s", "order": "descending"}, {"field": "tk", "order": "ascending"}], "frame": [null, 0]},
{"calculate": "datum.yd + datum.cg", "as": "z"},
{"window": [{"op": "min", "field": "z", "as": "u"}], "groupby": ["side"], "sort": [{"field": "idx", "order": "ascending"}], "frame": [null, 0]},
{"calculate": "datum.u - datum.cg", "as": "y1"},
{"window": [{"op": "sum", "field": "g", "as": "cb"}], "groupby": ["side"], "sort": [{"field": "idx", "order": "descending"}], "frame": [null, 0]},
{"calculate": "datum.cb - datum.g", "as": "e"},
{"calculate": "datum.y1 - datum.e", "as": "q"},
{"window": [{"op": "max", "field": "q", "as": "qm"}], "groupby": ["side"], "sort": [{"field": "idx", "order": "descending"}], "frame": [null, 0]},
{"calculate": "datum.e + max(-190, datum.qm)", "as": "ly"},
{"calculate": "datum.ly + 20 * datum.n", "as": "ty"},
{"calculate": "195 * datum.side", "as": "lx"}
], "layer": [
{"mark": {"type": "arc", "outerRadius": 124}, "encoding": {"x": {"datum": 0, "type": "quantitative", "scale": {"domain": [-195, 195], "nice": false, "zero": false}}, "y": {"datum": 0, "type": "quantitative", "scale": {"domain": [-193, 262], "nice": false, "zero": false}}, "theta": {"field": "a0", "type": "quantitative", "scale": null}, "theta2": {"field": "a1"}, "color": {"field": "source", "type": "nominal", "scale": {"domain": ["Coal", "Petroleum", "Gas", "Nuclear", "Geothermal", "Hydro", "Combustible"], "range": ["#6b6b6b", "#a4a4a4", "#070707", "#8b8b8b", "#505050", "#dddddd", "#bdbdbd"]}}}},
{"transform": [{"filter": "datum.v > 0"}], "mark": {"type": "rule", "color": "#1a1a1a", "strokeWidth": 2.5}, "encoding": {"x": {"field": "lx", "type": "quantitative", "scale": {"domain": [-195, 195], "nice": false, "zero": false}}, "x2": {"field": "px"}, "y": {"field": "ly", "type": "quantitative", "scale": {"domain": [-193, 262], "nice": false, "zero": false}}}},
{"transform": [{"filter": "datum.v > 0"}], "mark": {"type": "rule", "color": "#1a1a1a", "strokeWidth": 2.5, "strokeCap": "square"}, "encoding": {"x": {"field": "px", "type": "quantitative", "scale": {"domain": [-195, 195], "nice": false, "zero": false}}, "y": {"field": "ly", "type": "quantitative", "scale": {"domain": [-193, 262], "nice": false, "zero": false}}, "y2": {"field": "py"}}},
{"transform": [{"filter": "datum.side < 0"}], "mark": {"type": "text", "align": "left", "baseline": "top", "lineBreak": "|", "fontSize": 15, "lineHeight": 20, "color": "#262626"}, "encoding": {"x": {"field": "lx", "type": "quantitative", "scale": {"domain": [-195, 195], "nice": false, "zero": false}}, "y": {"field": "ty", "type": "quantitative", "scale": {"domain": [-193, 262], "nice": false, "zero": false}}, "text": {"field": "txt"}}},
{"transform": [{"filter": "datum.side > 0"}], "mark": {"type": "text", "align": "right", "baseline": "top", "lineBreak": "|", "fontSize": 15, "lineHeight": 20, "color": "#262626"}, "encoding": {"x": {"field": "lx", "type": "quantitative", "scale": {"domain": [-195, 195], "nice": false, "zero": false}}, "y": {"field": "ty", "type": "quantitative", "scale": {"domain": [-193, 262], "nice": false, "zero": false}}, "text": {"field": "txt"}}}
]}
]}
]}
]
}
